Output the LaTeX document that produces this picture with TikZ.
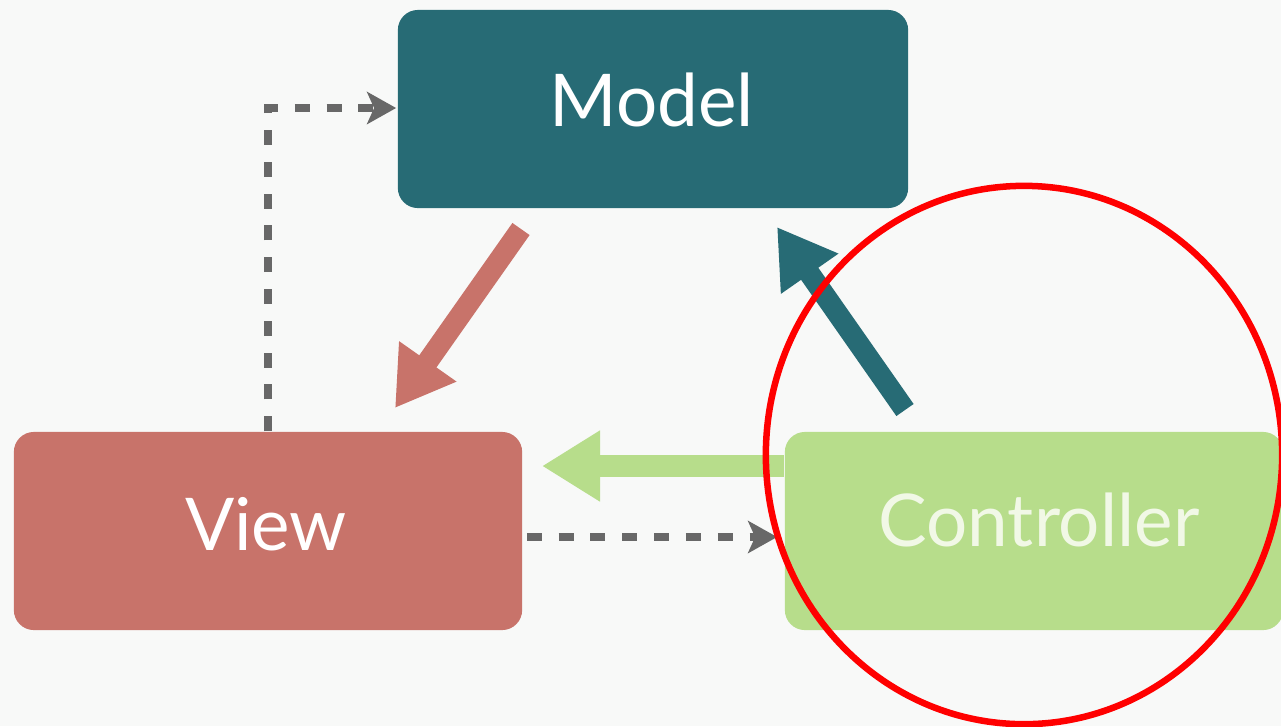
\documentclass[tikz,border=0pt]{standalone}
\usepackage{fontspec}
\setmainfont{Lato}
\usetikzlibrary{arrows.meta,calc,shapes.geometric}
\definecolor{bgc}{HTML}{F8F9F8}
\definecolor{mteal}{HTML}{276B75}
\definecolor{mred}{HTML}{C8736A}
\definecolor{mgreen}{HTML}{B7DD8B}
\definecolor{mgray}{HTML}{686868}
\definecolor{ctext}{HTML}{F1F8E6}
\begin{document}
\begin{tikzpicture}[x=0.01cm,y=-0.01cm,
  box/.style={rounded corners=0.2cm, inner sep=0pt, minimum height=1.98cm},
  lbl/.style={anchor=base, inner sep=0pt, font=\fontsize{20.7pt}{24pt}\selectfont},
  dashline/.style={mgray, line width=0.08cm, dash pattern=on 0.15cm off 0.168cm,
    -{Stealth[length=0.29cm,width=0.32cm,inset=0.07cm]}},
  blockarrow/.style={line width=0.21cm, -{Triangle[width=0.66cm,length=0.57cm]}}]
\fill[bgc] (0,0) rectangle (1281,726);
\useasboundingbox (0,0) rectangle (1281,726);
% boxes
\node[box, fill=mteal, minimum width=5.10cm] (model) at (653,109) {};
\node[box, fill=mred, minimum width=5.08cm] (view) at (268,531) {};
\node[box, fill=mgreen, minimum width=4.98cm] (ctrl) at (1034,531) {};
% labels
\node[lbl, text=white] (modelt) at (652,126) {Model};
\node[lbl, text=white] (viewt) at (266,550) {View};
\node[lbl, text=ctext] (ctrlt) at (1039,546) {Controller};
% block arrows
\coordinate (rt) at (521,229);
\coordinate (rh) at (395,408);
\draw[blockarrow, mred] (rt) -- (rh);
\coordinate (tt) at (905,410);
\coordinate (th) at (777,227);
\draw[blockarrow, mteal] (tt) -- (th);
\coordinate (gt) at ($(ctrl.west)+(0,-65)$);
\coordinate (gh) at (542,466);
\draw[mgreen, line width=0.22cm, -{Triangle[width=0.67cm,length=0.58cm]}] (gt) -- (gh);
% dashed arrows
\draw[dashline] (view.north) |- ($(model.west)+(-1,-1)$);
\draw[dashline] ($(view.east)+(4,6)$) -- ($(ctrl.west)+(-7,6)$);
% red circle
\node[draw=red, line width=0.065cm, ellipse, minimum width=5.16cm, minimum height=5.38cm, inner sep=0pt] (circ) at (1024,455) {};
\end{tikzpicture}
\end{document}
